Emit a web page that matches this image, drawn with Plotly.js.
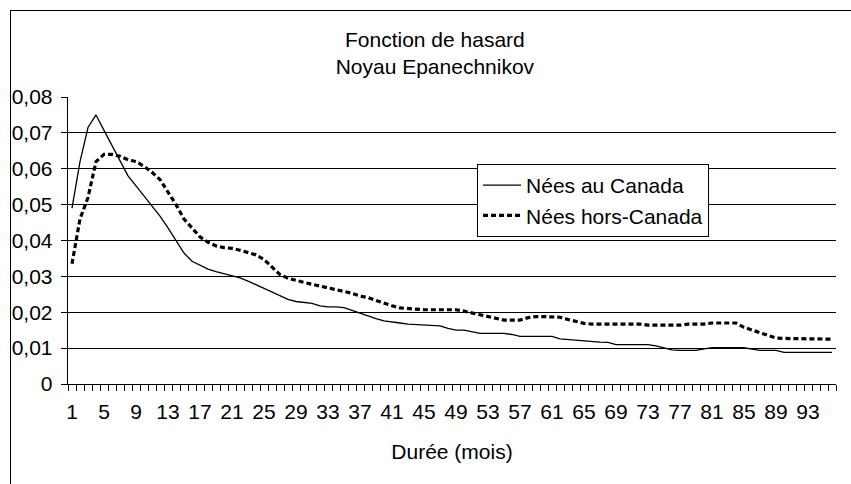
<!DOCTYPE html>
<html>
<head>
<meta charset="utf-8">
<script src="https://cdn.plot.ly/plotly-3.0.1.min.js"></script>
<style>
html,body{margin:0;padding:0;background:#fff;overflow:hidden;}
#wrap{position:relative;width:851px;height:484px;overflow:hidden;}
#chart{width:851px;height:484px;}
#frame{position:absolute;left:10px;top:10px;width:900px;height:600px;border:1.5px solid #000;pointer-events:none;box-sizing:border-box;}
</style>
</head>
<body>
<div id="wrap">
<div id="chart"></div>
<div id="frame"></div>
</div>
<script>
// Duration categories (months)
var durees = [];
for (var i = 1; i <= 96; i++) durees.push(i);

var neesCanada = [
0.049,0.062,0.0715,0.075,0.0707,0.0665,0.0622,0.058,0.0552,0.0524,
0.0496,0.0468,0.0435,0.0398,0.0365,0.0342,0.0330,0.0320,0.0313,0.0308,
0.0303,0.0296,0.0287,0.0277,0.0266,0.0255,0.0245,0.0236,0.0230,0.0227,
0.0225,0.0218,0.0215,0.0215,0.0213,0.0205,0.0197,0.0188,0.0182,0.0176,
0.0172,0.0170,0.0167,0.0166,0.0163,0.0163,0.0162,0.0155,0.0150,0.0150,
0.0145,0.0141,0.0141,0.0141,0.0141,0.0138,0.0133,0.0133,0.0133,0.0133,
0.0133,0.0126,0.0124,0.0122,0.0119,0.0117,0.0117,0.0116,0.0110,0.0110,
0.0110,0.0110,0.0110,0.0106,0.0100,0.0095,0.0094,0.0094,0.0094,0.0098,
0.0101,0.0101,0.0101,0.0101,0.0101,0.0097,0.0094,0.0094,0.0094,0.0088,
0.0088,0.0088,0.0088,0.0088,0.0088,0.0088
];

var neesHorsCanada = [
0.0335,0.046,0.052,0.062,0.064,0.064,0.0635,0.0625,0.062,0.0607,
0.059,0.057,0.0535,0.050,0.046,0.0435,0.041,0.0395,0.0385,0.038,
0.0378,0.0373,0.0367,0.036,0.0347,0.0325,0.0305,0.0295,0.0288,0.0283,
0.0278,0.0273,0.0268,0.0265,0.026,0.0253,0.0245,0.0241,0.0233,0.0225,
0.0218,0.0212,0.021,0.0208,0.0207,0.0207,0.0207,0.0207,0.0207,0.0203,
0.0198,0.0193,0.0187,0.0181,0.0178,0.0178,0.0178,0.0185,0.0188,0.0188,
0.0188,0.0186,0.018,0.0174,0.0169,0.0167,0.0167,0.0167,0.0167,0.0167,
0.0167,0.0167,0.0164,0.0164,0.0164,0.0164,0.0164,0.0167,0.0167,0.0167,
0.017,0.017,0.017,0.017,0.0158,0.015,0.0142,0.0134,0.0128,0.0127,
0.0127,0.0127,0.0127,0.0127,0.0126,0.0125
];

var xTickVals = [1,5,9,13,17,21,25,29,33,37,41,45,49,53,57,61,65,69,73,77,81,85,89,93];
var xTickText = xTickVals.map(String);
var yTickVals = [0,0.01,0.02,0.03,0.04,0.05,0.06,0.07,0.08];
var yTickText = ['0','0,01','0,02','0,03','0,04','0,05','0,06','0,07','0,08'];

var FONT = 'Liberation Sans, Arial, sans-serif';
var FS = 21;

var traces = [
  {x: durees, y: neesCanada, type: 'scatter', mode: 'lines', name: 'Nées au Canada',
   line: {color: '#000', width: 1.3}},
  {x: durees, y: neesHorsCanada, type: 'scatter', mode: 'lines', name: 'Nées hors-Canada',
   line: {color: '#000', width: 3.2, dash: '5px,3px'}}
];

var layout = {
  width: 851, height: 484,
  margin: {l: 68, r: 15, t: 97, b: 100},
  paper_bgcolor: '#fff', plot_bgcolor: '#fff',
  font: {family: FONT, size: FS, color: '#000'},
  title: {text: 'Fonction de hasard<br>Noyau Epanechnikov', font: {family: FONT, size: FS, color: '#000'},
          xref: 'container', x: 0.511, xanchor: 'center', yref: 'container', y: 0.903, yanchor: 'top'},
  showlegend: true,
  legend: {x: 0.5326, y: 0.7666, xanchor: 'left', yanchor: 'top', bgcolor: '#fff',
           bordercolor: '#000', borderwidth: 1, font: {family: FONT, size: FS, color: '#000'},
           tracegroupgap: 0, itemwidth: 38},
  xaxis: {type: 'linear', range: [0.5, 96.5], tickmode: 'array', tickvals: xTickVals, ticktext: xTickText,
          ticks: '', showgrid: false, zeroline: false, showline: true, linecolor: '#000', linewidth: 1.3,
          ticklabelstandoff: 8,
          minor: {ticks: 'outside', ticklen: 6, tickcolor: '#000', tickwidth: 1, tickmode: 'linear', tick0: 0.5, dtick: 1, showgrid: false},
          title: {text: 'Durée (mois)', font: {family: FONT, size: FS, color: '#000'}, standoff: 22},
          fixedrange: true},
  yaxis: {range: [0, 0.08], tickmode: 'array', tickvals: yTickVals, ticktext: yTickText,
          ticks: 'outside', ticklen: 6, tickcolor: '#000', tickwidth: 1,
          showgrid: true, gridcolor: '#000', gridwidth: 1.2, zeroline: false,
          showline: true, linecolor: '#000', linewidth: 1.3, ticklabelstandoff: 4, fixedrange: true},
  hovermode: false
};

Plotly.newPlot('chart', traces, layout, {displayModeBar: false, staticPlot: true});
</script>
</body>
</html>
